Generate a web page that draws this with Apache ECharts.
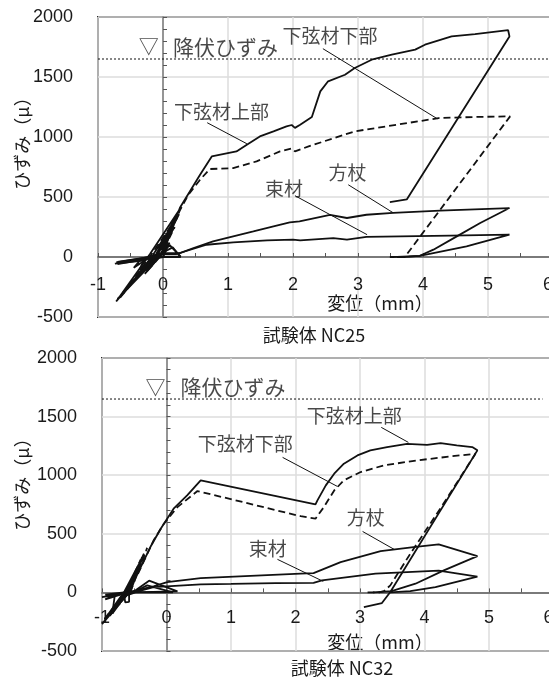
<!DOCTYPE html>
<html>
<head>
<meta charset="utf-8">
<script src="https://cdn.jsdelivr.net/npm/echarts@6/dist/echarts.min.js"></script>
<style>
  html, body { margin: 0; padding: 0; background: #fff; }
  #chart { width: 549px; height: 681px; }
</style>
</head>
<body>
<div id="chart"></div>
<script>
// Strain vs. displacement, points are [displacement (mm), strain (μ)]

// Specimen NC25
const nc25Upper = [
  [0, 0], [0.08, 110], [-0.05, 5], [-0.25, -120], [-0.05, 10], [0.15, 230], [-0.1, 15],
  [-0.45, -200], [-0.08, 20], [0.22, 330], [-0.15, 20], [-0.6, -300], [-0.1, 25],
  [0.26, 400], [-0.2, 25], [-0.72, -370], [-0.1, 20], [-0.66, -330], [-0.05, 30],
  [-0.7, -350], [0.0, 40], [0.26, 410],
  [0.57, 685], [0.75, 838], [1.13, 880], [1.29, 936], [1.49, 1005], [1.70, 1047],
  [1.90, 1088], [1.98, 1100], [2.03, 1076], [2.11, 1102], [2.29, 1166], [2.42, 1380],
  [2.54, 1464], [2.80, 1519], [2.95, 1575], [3.21, 1644], [3.52, 1686], [3.88, 1728],
  [4.03, 1769], [4.44, 1838], [4.80, 1858], [5.31, 1890], [5.33, 1838], [3.75, 480],
  [3.49, 458]
];
const nc25Lower = [
  [0, 0], [0.1, 120], [-0.05, 0], [-0.28, -140], [-0.03, 15], [0.18, 250], [-0.12, 10],
  [-0.5, -230], [-0.06, 20], [0.25, 360], [-0.18, 20], [-0.66, -340], [-0.12, 20],
  [-0.62, -300], [-0.06, 25], [0.05, 150], [-0.1, 30],
  [0.0, 40], [0.26, 390], [0.39, 519], [0.57, 644], [0.72, 733], [1.08, 741],
  [1.44, 797], [1.80, 880], [1.98, 905], [2.03, 880], [2.24, 922], [2.95, 1047],
  [3.77, 1117], [4.24, 1158], [4.80, 1167], [5.34, 1172], [3.72, 0], [3.49, 0]
];
const nc25Brace = [
  [0, 0], [-0.3, -20], [-0.72, -45], [-0.3, -10], [0, 30], [0.1, 100], [0.27, 5],
  [-0.1, 0], [-0.7, -60], [-0.35, -25], [-0.45, -90], [-0.2, 0], [0, 35], [0.26, 33],
  [0.47, 75], [0.77, 130], [1.08, 172],
  [1.39, 213], [1.70, 255], [1.95, 288], [2.10, 297], [2.57, 352], [2.83, 325],
  [3.13, 352], [3.54, 367], [4.26, 386], [5.33, 408], [4.88, 283], [4.52, 172],
  [4.16, 61], [3.95, 10], [3.78, 3], [3.50, 0]
];
const nc25Strut = [
  [0, 0], [-0.7, -40], [-0.1, 10], [0.15, 80], [0.27, 0], [-0.05, 0], [-0.74, -55],
  [-0.3, -30], [-0.36, -110], [-0.15, -10], [0, 25], [0.21, 25], [0.67, 102],
  [1.08, 122], [1.60, 138], [2.00, 144], [2.11, 139],
  [2.62, 158], [2.83, 144], [3.13, 167], [3.65, 172], [4.42, 178], [5.33, 186],
  [4.67, 89], [3.95, 10], [3.60, 0]
];

// Specimen NC32
const nc32Upper = [
  [-0.6, 0], [-0.5, 120], [-0.62, 5], [-0.8, -120], [-0.6, 10], [-0.42, 250], [-0.65, 10],
  [-0.92, -200], [-0.62, 15], [-0.35, 330], [-0.55, 20], [-1.0, -270], [-0.6, 10],
  [-0.96, -230], [-0.58, 20], [-0.38, 300], [-0.5, 100],
  [-0.25, 387], [-0.09, 543], [0.11, 714], [0.32, 828], [0.53, 956],
  [2.31, 751], [2.34, 785], [2.47, 913], [2.60, 1013], [2.75, 1098], [2.96, 1169],
  [3.16, 1212], [3.42, 1240], [3.73, 1268], [4.04, 1259], [4.25, 1273], [4.50, 1254],
  [4.74, 1240], [4.82, 1212], [3.47, 3], [3.34, -91], [3.06, -125]
];
const nc32Lower = [
  [-0.6, 0], [-0.48, 140], [-0.6, 0], [-0.84, -180], [-0.58, 10], [-0.4, 280],
  [-0.62, 10], [-0.98, -240], [-0.6, 15], [-0.88, -200], [-0.55, 20], [-0.3, 380],
  [-0.45, 150], [-0.2, 444],
  [-0.04, 586], [0.17, 728], [0.48, 865], [2.08, 650], [2.31, 629], [2.44, 728],
  [2.60, 870], [2.75, 956], [3.01, 1027], [3.37, 1084], [3.88, 1126], [4.40, 1160],
  [4.79, 1183], [4.25, 720], [3.78, 330], [3.47, 60], [3.37, 10], [3.30, 0], [3.06, 0]
];
const nc32Brace = [
  [-0.55, 0], [-0.95, -20], [-0.5, 10], [-0.27, 100], [0.17, 8], [-0.6, 0], [-1.0, -40],
  [-0.66, -10], [-0.64, -85], [-0.58, -80], [-0.58, 5],
  [-0.45, 20], [-0.2, 51], [0.01, 88], [0.53, 122], [2.08, 160], [2.28, 165],
  [2.70, 259], [3.32, 352], [3.83, 387], [4.22, 410], [4.82, 310], [4.30, 188],
  [3.86, 74], [3.49, 10], [3.20, 0]
];
const nc32Strut = [
  [-0.55, 0], [-0.9, -30], [-0.5, 5], [-0.3, 60], [0.1, 0], [-0.6, 0], [-0.95, -60],
  [-0.8, -20], [-0.84, -180], [-0.7, -40], [-0.4, 15], [-0.2, 45], [0.0, 52],
  [0.53, 68], [1.0, 72], [1.69, 79], [2.28, 82],
  [2.41, 102], [3.24, 160], [4.22, 185], [4.82, 135], [4.17, 45], [3.78, 11], [3.47, 0]
];

const xTicks = [-1, 0, 1, 2, 3, 4, 5, 6];
const yTicks = [-500, 0, 500, 1000, 1500, 2000];
const yieldStrain = 1650;
const yieldLabel = '降伏ひずみ';
const specimenTitles = ['試験体 NC25', '試験体 NC32'];
const xAxisTitle = '変位（mm）';
const yAxisTitle = 'ひずみ（μ）';

const CJK = "'Noto Sans CJK JP', 'Noto Sans', sans-serif";
const NUM = "'Liberation Sans', Arial, sans-serif";
const INK = '#1a1a1a';

// Per-panel layout and annotations (label anchors in data units)
const panels = [
  {
    grid: { left: 98, top: 17, width: 455, height: 300 },
    yLabelMargin: 25, xLabelMargin: -41,
    curves: { upper: nc25Upper, lower: nc25Lower, brace: nc25Brace, strut: nc25Strut },
    yieldEnd: 5.95,
    yieldMark: [-0.22, 1752], yieldText: [0.96, 1752],
    labels: [
      ['下弦材上部', 0.90, 1211], ['下弦材下部', 2.57, 1844],
      ['束材', 1.86, 569], ['方杖', 2.84, 703]
    ],
    leaders: [
      [[0.68, 1119], [1.29, 944]], [[2.46, 1736], [4.22, 1152]],
      [[2.03, 511], [3.14, 186]], [[2.85, 602], [3.54, 369]]
    ],
    xName: [380, 303], yName: [22, 139], title: [314, 335]
  },
  {
    grid: { left: 102, top: 358, width: 451.5, height: 293 },
    yLabelMargin: 25, xLabelMargin: -42,
    curves: { upper: nc32Upper, lower: nc32Lower, brace: nc32Brace, strut: nc32Strut },
    yieldEnd: 5.83,
    yieldMark: [-0.17, 1749], yieldText: [1.03, 1749],
    labels: [
      ['下弦材下部', 1.22, 1271], ['下弦材上部', 2.91, 1510],
      ['方杖', 3.09, 640], ['束材', 1.57, 375]
    ],
    leaders: [
      [[1.80, 1152], [2.65, 904]], [[3.33, 1408], [3.75, 1280]],
      [[3.04, 520], [3.53, 367]], [[1.72, 282], [2.43, 94]]
    ],
    xName: [380, 642], yName: [22, 480], title: [342, 668]
  }
];

const grids = [], xAxes = [], yAxes = [], series = [], graphics = [];

panels.forEach((p, i) => {
  grids.push(Object.assign({
    show: true, borderColor: '#2a2a2a', borderWidth: 2,
    backgroundColor: 'transparent', outerBoundsMode: 'none', containLabel: false
  }, p.grid));

  xAxes.push({
    gridIndex: i, type: 'value',
    min: xTicks[0], max: xTicks[xTicks.length - 1], interval: 1,
    axisLine: { show: true, onZero: true, lineStyle: { color: '#7a7a7a', width: 2 } },
    axisTick: { show: true, inside: true, length: 4, lineStyle: { color: '#555', width: 1 } },
    minorTick: { show: true, splitNumber: 2, length: 4, lineStyle: { color: '#555', width: 1 } },
    axisLabel: {
      show: true, margin: p.xLabelMargin, fontSize: 18, color: INK, fontFamily: NUM,
      showMinLabel: true, showMaxLabel: true, hideOverlap: false, alignMaxLabel: 'right',
      formatter: v => String(v)
    },
    splitLine: { show: true, lineStyle: { color: '#dcdcdc', width: 1.5 } }
  });

  yAxes.push({
    gridIndex: i, type: 'value',
    min: yTicks[0], max: yTicks[yTicks.length - 1], interval: 500,
    axisLine: { show: true, onZero: true, lineStyle: { color: '#7a7a7a', width: 1.5 } },
    axisTick: { show: true, inside: true, length: 4, lineStyle: { color: '#555', width: 1 } },
    minorTick: { show: true, splitNumber: 5, length: 4, lineStyle: { color: '#555', width: 1 } },
    axisLabel: {
      show: true, margin: p.yLabelMargin, fontSize: 18, color: INK, fontFamily: NUM,
      showMinLabel: true, showMaxLabel: true, hideOverlap: false,
      formatter: v => String(v)
    },
    splitLine: { show: true, lineStyle: { color: '#dcdcdc', width: 1.5 } }
  });

  const base = { xAxisIndex: i, yAxisIndex: i, type: 'line', showSymbol: false, symbol: 'none',
                 animation: false, silent: true, z: 5 };

  // yield strain reference
  series.push(Object.assign({}, base, {
    data: [[xTicks[0], yieldStrain], [p.yieldEnd, yieldStrain]],
    lineStyle: { color: '#111', width: 1, type: [2, 2] }, z: 3
  }));

  // measured curves
  series.push(Object.assign({}, base, { name: '下弦材上部', data: p.curves.upper,
    lineStyle: { color: '#111', width: 1.8 } }));
  series.push(Object.assign({}, base, { name: '下弦材下部', data: p.curves.lower,
    lineStyle: { color: '#111', width: 1.8, type: [7, 4] } }));
  series.push(Object.assign({}, base, { name: '方杖', data: p.curves.brace,
    lineStyle: { color: '#111', width: 1.8 } }));
  series.push(Object.assign({}, base, { name: '束材', data: p.curves.strut,
    lineStyle: { color: '#111', width: 1.8 } }));

  // leader lines from labels to curves
  p.leaders.forEach(seg => {
    series.push(Object.assign({}, base, { data: seg, lineStyle: { color: '#111', width: 1 } }));
  });

  // member labels
  const textData = p.labels.map(l => [l[1], l[2], l[0]]);
  textData.push([p.yieldMark[0], p.yieldMark[1], '▽']);
  series.push({
    type: 'scatter', xAxisIndex: i, yAxisIndex: i, symbolSize: 0, silent: true,
    animation: false, z: 6,
    data: textData.map(d => ({ value: d, label: { fontSize: d[2] === '▽' ? 20 : 19 } })),
    label: {
      show: true, position: 'inside', formatter: q => q.data.value[2],
      color: INK, fontFamily: CJK, fontSize: 19
    }
  });
  series.push({
    type: 'scatter', xAxisIndex: i, yAxisIndex: i, symbolSize: 0, silent: true,
    animation: false, z: 6,
    data: [[p.yieldText[0], p.yieldText[1], yieldLabel]],
    label: {
      show: true, position: 'inside', formatter: q => q.data[2],
      color: INK, fontFamily: CJK, fontSize: 21
    }
  });

  // axis titles and specimen caption
  graphics.push({
    type: 'text', x: p.xName[0], y: p.xName[1], silent: true,
    style: { text: xAxisTitle, fill: INK, font: `18px ${CJK}`, align: 'center', verticalAlign: 'middle' }
  });
  graphics.push({
    type: 'text', x: p.yName[0], y: p.yName[1], rotation: Math.PI / 2, silent: true,
    style: { text: yAxisTitle, fill: INK, font: `18px ${CJK}`, align: 'center', verticalAlign: 'middle' }
  });
  graphics.push({
    type: 'text', x: p.title[0], y: p.title[1], silent: true,
    style: { text: specimenTitles[i], fill: INK, font: `18px ${CJK}`, align: 'center', verticalAlign: 'middle' }
  });
});

const chart = echarts.init(document.getElementById('chart'), null, { renderer: 'canvas' });
chart.setOption({
  animation: false,
  backgroundColor: '#fff',
  grid: grids,
  xAxis: xAxes,
  yAxis: yAxes,
  series: series,
  graphic: graphics
});
</script>
</body>
</html>
